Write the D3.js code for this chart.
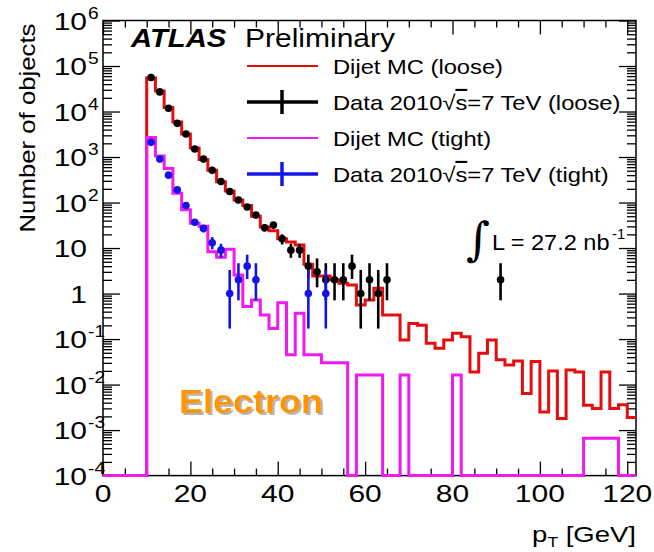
<!DOCTYPE html>
<html>
<head>
<meta charset="utf-8">
<script src="https://cdn.jsdelivr.net/npm/d3@7"></script>
<style>
    html, body { margin: 0; padding: 0; background: #fff; }
    svg { display: block; font-family: 'Liberation Sans', Arial, Helvetica, sans-serif; }
</style>
</head>
<body>
<div id="chart"></div>
<script>
// Histogram binning (GeV), 2 GeV bins
const binEdges = [0, 2, 4, 6, 8, 10, 12, 14, 16, 18, 20, 22, 24, 26, 28, 30, 32, 34, 36, 38, 40,
    42, 44, 46, 48, 50, 52, 54, 56, 58, 60, 62, 64, 66, 68, 70, 72, 74, 76, 78, 80,
    82, 84, 86, 88, 90, 92, 94, 96, 98, 100, 102, 104, 106, 108, 110, 112, 114, 116, 118, 120, 122];

// Dijet MC, loose selection (one value per bin)
const mcLoose = [0, 0, 0, 0, 0,
    54700, 28400, 12300, 5850, 3220, 1580, 885, 510, 288, 180,
    114, 86, 50, 29, 24, 16, 13.5, 11.7, 4.4, 2.44,
    2.44, 2.0, 1.68, 1.55, 0.56, 0.72, 1.31, 0.34, 0.34, 0.095,
    0.22, 0.20, 0.081, 0.063, 0.095, 0.134, 0.113, 0.019, 0.049, 0.095,
    0.035, 0.027, 0.033, 0.0064, 0.032, 0.0025, 0.020, 0.0018, 0.021, 0.019,
    0.0035, 0.003, 0.019, 0.003, 0.0036, 0.0019];

// Dijet MC, tight selection
const mcTight = [0, 0, 0, 0, 0,
    2700, 1050, 560, 160, 69, 35, 30, 8.3, 6.3, 9.4,
    2.56, 0.52, 0.72, 0.34, 0.17, 0.63, 0.045, 0.37, 0.045, 0.045,
    0.030, 0.030, 0.030, 0, 0.0163, 0.0163, 0.0163, 0, 0, 0.0163,
    0, 0, 0, 0, 0, 0.0163, 0, 0, 0, 0,
    0, 0, 0, 0, 0, 0, 0, 0, 0, 0,
    0.00066, 0.00066, 0.00066, 0.00066, 0, 0, 0];

// Data 2010, loose: bin centre, count, error bar low / high
const looseX = [11, 13, 15, 17, 19, 21, 23, 25, 27, 29, 31, 33, 35, 37, 39, 41, 43, 45, 47, 49,
    51, 53, 55, 57, 59, 61, 63, 65, 91];
const looseN = [56000, 27000, 11800, 5500, 3200, 1500, 900, 510, 290, 175, 114, 80, 53, 28, 32, 16, 9, 9, 4, 3,
    2, 2, 2, 4, 1, 2, 1, 2, 2];
const looseLo = [55800, 26800, 11700, 5430, 3140, 1460, 870, 490, 273, 162, 103, 71, 46, 23, 26.5, 12, 6.1, 6.1, 2.09, 1.37,
    0.71, 0.71, 0.71, 2.09, 0.17, 0.71, 0.17, 0.71, 0.71];
const looseHi = [56200, 27200, 11900, 5570, 3260, 1540, 930, 530, 307, 188, 125, 89, 60, 33.5, 37.5, 20, 12.4, 12.4, 7.16, 5.92,
    4.64, 4.64, 4.64, 7.16, 3.3, 4.64, 3.3, 4.64, 4.64];

// Data 2010, tight
const tightX = [11, 13, 15, 17, 19, 21, 23, 25, 27, 29, 31, 33, 35, 47, 51];
const tightN = [2100, 900, 400, 190, 86, 37, 27, 13, 9, 1, 2, 4, 2, 1, 1];
const tightLo = [2055, 870, 380, 176, 77, 31, 22, 9.4, 6.1, 0.17, 0.71, 2.09, 0.71, 0.17, 0.17];
const tightHi = [2145, 930, 420, 204, 95, 43, 32, 17.4, 12.4, 3.3, 4.64, 7.16, 4.64, 3.3, 3.3];

// Axis labels
const xTickLabels = [0, 20, 40, 60, 80, 100, 120];
const yDecades = [-4, -3, -2, -1, 0, 1, 2, 3, 4, 5, 6];

const legendEntries = [
    { label: 'Dijet MC (loose)', color: '#e50d0d', kind: 'line' },
    { label: 'Data 2010', energy: '=7 TeV (loose)', color: '#000000', kind: 'data' },
    { label: 'Dijet MC (tight)', color: '#f01af0', kind: 'line' },
    { label: 'Data 2010', energy: '=7 TeV (tight)', color: '#1414e6', kind: 'data' },
];

const colors = { loose: '#e50d0d', tight: '#f01af0', dataLoose: '#000000', dataTight: '#1414e6' };

const W = 654, H = 552;
const margin = { top: 20.5, right: 18, bottom: 76.4, left: 103 };
const width = W - margin.left - margin.right;
const height = H - margin.top - margin.bottom;

const svg = d3.select('#chart').append('svg')
    .attr('width', W)
    .attr('height', H)
    .attr('viewBox', `0 0 ${W} ${H}`);

// soft grey drop shadow for the "Electron" tag
svg.append('defs').append('filter')
    .attr('id', 'shadow')
    .attr('x', '-10%').attr('y', '-20%').attr('width', '130%').attr('height', '150%')
    .append('feDropShadow')
    .attr('dx', 2).attr('dy', 2)
    .attr('stdDeviation', 0.6)
    .attr('flood-color', '#b4b4b4')
    .attr('flood-opacity', 1);

const g = svg.append('g').attr('transform', `translate(${margin.left},${margin.top})`);

const x = d3.scaleLinear().domain([0, 122]).range([0, width]);
const y = d3.scaleLog().domain([1e-4, 1e6]).range([height, 0]);
const yv = v => y(Math.max(v, 1e-4));

// text helper: stretched along its own direction like the original ROOT fonts
function label(parent, tx, ty, str, o = {}) {
    const t = parent.append('text')
        .attr('transform', `translate(${tx},${ty})${o.rotate ? ` rotate(${o.rotate})` : ''} scale(${o.sx || 1},1)`)
        .attr('font-size', o.size || 20)
        .attr('text-anchor', o.anchor || 'start')
        .attr('fill', o.fill || '#000')
        .text(str);
    if (o.weight) t.attr('font-weight', o.weight);
    if (o.style) t.attr('font-style', o.style);
    return t;
}

/**
 * Frame and ticks (ROOT style, ticks pointing inside on all four sides)
 */
const majorY = yDecades.map(k => Math.pow(10, k));
const minorY = y.ticks(50).filter(v => Math.abs(Math.log10(v) - Math.round(Math.log10(v))) > 1e-6);
const minorX = x.ticks(24).filter(v => !xTickLabels.includes(v));

function tickGroup(axis, transform) {
    const a = g.append('g').attr('class', 'axis').attr('transform', transform || null).call(axis);
    a.select('.domain').remove();
    a.selectAll('.tick line').attr('stroke', '#000').attr('stroke-width', 1.3);
    return a;
}

tickGroup(d3.axisLeft(y).tickValues(majorY).tickSizeInner(-17).tickFormat(''));
tickGroup(d3.axisLeft(y).tickValues(minorY).tickSizeInner(-9).tickFormat(''));
tickGroup(d3.axisRight(y).tickValues(majorY).tickSizeInner(-17).tickFormat(''), `translate(${width},0)`);
tickGroup(d3.axisRight(y).tickValues(minorY).tickSizeInner(-9).tickFormat(''), `translate(${width},0)`);
tickGroup(d3.axisBottom(x).tickValues(xTickLabels).tickSizeInner(-14).tickFormat(''), `translate(0,${height})`);
tickGroup(d3.axisBottom(x).tickValues(minorX).tickSizeInner(-7).tickFormat(''), `translate(0,${height})`);
tickGroup(d3.axisTop(x).tickValues(xTickLabels).tickSizeInner(-14).tickFormat(''));
tickGroup(d3.axisTop(x).tickValues(minorX).tickSizeInner(-7).tickFormat(''));

g.append('rect')
    .attr('width', width)
    .attr('height', height)
    .attr('fill', 'none')
    .attr('stroke', '#000')
    .attr('stroke-width', 1.5);

// tick labels
xTickLabels.forEach(v => {
    label(g, x(v), height + 26, String(v), { size: 24, sx: 1.25, anchor: 'middle' });
});

yDecades.forEach(k => {
    const py = y(Math.pow(10, k));
    const main = k === 0 ? '1' : '10';
    label(g, -16, py + 9, main, { size: 24, sx: 1.25, anchor: 'end' });
    if (k !== 0 && k !== 1) {
        label(g, -15, py - 2, String(k), { size: 16, sx: 1.2 });
    }
});

// axis titles
label(svg, 35, 128, 'Number of objects', { size: 23, sx: 1.12, anchor: 'middle', rotate: -90 });
const xt = label(svg, 636, 541.5, '', { size: 22, sx: 1.25, anchor: 'end' });
xt.append('tspan').text('p');
xt.append('tspan').attr('font-size', 14).attr('dy', 5).text('T');
xt.append('tspan').attr('dy', -5).text(' [GeV]');

/**
 * Histograms
 */
const step = vals => vals.flatMap((v, i) => [[binEdges[i], v], [binEdges[i + 1], v]]);
const histLine = d3.line().x(d => x(d[0])).y(d => yv(d[1]));

[[mcLoose, colors.loose], [mcTight, colors.tight]].forEach(([vals, c]) => {
    g.append('path')
        .attr('d', histLine(step(vals)))
        .attr('fill', 'none')
        .attr('stroke', c)
        .attr('stroke-width', 3)
        .attr('stroke-linejoin', 'miter');
});

function drawData(xs, ns, lo, hi, c) {
    const grp = g.append('g');
    xs.forEach((cx, i) => {
        grp.append('line')
            .attr('x1', x(cx)).attr('x2', x(cx))
            .attr('y1', yv(lo[i])).attr('y2', yv(hi[i]))
            .attr('stroke', c).attr('stroke-width', 2.6);
        grp.append('circle')
            .attr('cx', x(cx)).attr('cy', y(ns[i]))
            .attr('r', 3.8)
            .attr('fill', c);
    });
}
drawData(looseX, looseN, looseLo, looseHi, colors.dataLoose);
drawData(tightX, tightN, tightLo, tightHi, colors.dataTight);

/**
 * Labels and legend
 */
label(svg, 131, 47, 'ATLAS', { size: 25, sx: 1.17, weight: 'bold', style: 'italic' });
label(svg, 245, 47, 'Preliminary', { size: 25, sx: 1.2 });

legendEntries.forEach((e, i) => {
    const ly = 66 + i * 36;
    svg.append('line')
        .attr('x1', 247).attr('x2', 318).attr('y1', ly).attr('y2', ly)
        .attr('stroke', e.color)
        .attr('stroke-width', e.kind === 'data' ? 3.5 : 2);
    if (e.kind === 'data') {
        svg.append('line')
            .attr('x1', 282).attr('x2', 282).attr('y1', ly - 12).attr('y2', ly + 12)
            .attr('stroke', e.color).attr('stroke-width', 3.5);
    }
    const t = label(svg, 333, ly + 7.5, '', { size: 21, sx: 1.13 });
    t.append('tspan').text(e.label);
    if (e.energy) {
        t.append('tspan').text('\u221A');
        t.append('tspan').style('text-decoration', 'overline').text('s');
        t.append('tspan').text(e.energy);
    }
});

// integrated luminosity
label(svg, 466, 255, '\u222B', { size: 46, fill: '#000' }).attr('font-family', 'DejaVu Serif');
label(svg, 492, 250, 'L = 27.2 nb', { size: 22, sx: 1.07 });
label(svg, 612, 239, '-1', { size: 14, sx: 1.05 });

// particle type tag
label(svg, 179, 413, 'Electron', { size: 34, sx: 1.06, weight: 'bold', fill: '#ff9600' })
    .attr('filter', 'url(#shadow)');
</script>
</body>
</html>
